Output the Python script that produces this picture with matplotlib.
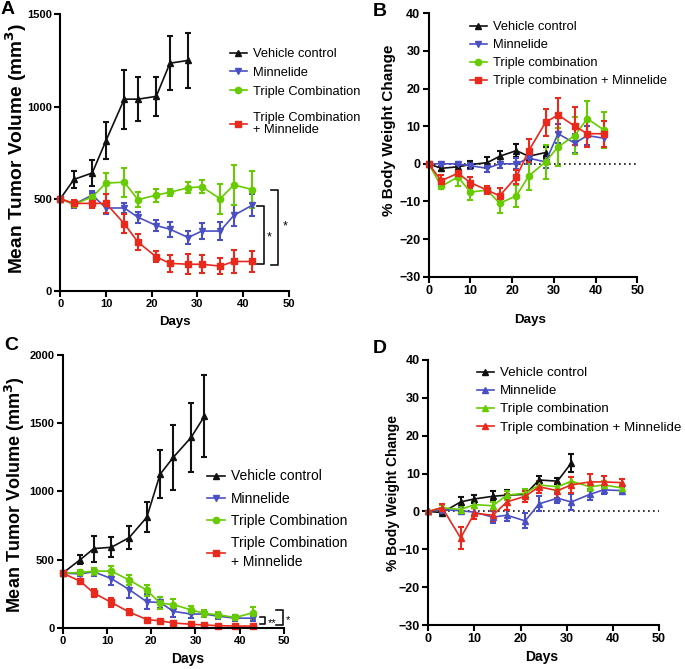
import matplotlib
matplotlib.use("Agg")
import matplotlib.pyplot as plt
from matplotlib.lines import Line2D
from matplotlib.legend import Legend

plt.rcParams['font.family'] = ['Liberation Sans', 'DejaVu Sans']
plt.rcParams['mathtext.default'] = 'bf'

BLACK = "#111111"
BLUE = "#4a50c4"
GREEN = "#66cc00"
RED = "#e8291c"

# ---- panel A: tumor volume ----
a_days_veh = [0, 3, 7, 10, 14, 17, 21, 24, 28]
a_veh = [500, 605, 640, 815, 1040, 1040, 1055, 1235, 1250]
a_veh_err = [0, 47, 70, 100, 160, 120, 105, 147, 150]
a_days = [0, 3, 7, 10, 14, 17, 21, 24, 28, 31, 35, 38, 42]
a_min = [500, 470, 520, 450, 450, 400, 355, 335, 290, 325, 325, 410, 465]
a_min_err = [0, 20, 20, 35, 25, 30, 30, 40, 35, 45, 50, 55, 60]
a_tri = [500, 470, 510, 585, 590, 495, 520, 535, 560, 565, 500, 575, 550]
a_tri_err = [0, 15, 15, 57, 78, 40, 35, 20, 30, 35, 80, 110, 100]
a_trm = [500, 475, 475, 475, 365, 265, 185, 150, 145, 145, 135, 160, 160]
a_trm_err = [0, 20, 25, 50, 50, 45, 30, 45, 55, 50, 45, 60, 55]

# ---- panel B: body weight ----
b_days_veh = [0, 3, 7, 10, 14, 17, 21, 24, 28]
b_veh = [0, -1.2, -0.8, -0.2, 0.3, 2.0, 3.5, 2.0, 3.0]
b_veh_err = [0, 0.6, 0.8, 1.0, 1.5, 1.5, 1.8, 1.2, 1.5]
b_days = [0, 3, 7, 10, 14, 17, 21, 24, 28, 31, 35, 38, 42]
b_min = [0, 0, 0, -0.5, -1.2, 0, 0, 1.5, 0.5, 8.0, 5.5, 7.5, 6.8]
b_min_err = [0, 0.6, 0.6, 0.8, 1.0, 1.2, 1.5, 1.5, 1.5, 2.5, 2.5, 2.5, 2.5]
b_tri = [0, -6.0, -3.5, -7.5, -7.0, -10.5, -8.5, -3.2, 0.5, 4.5, 7.5, 12.0, 9.0]
b_tri_err = [0, 0.8, 2.5, 2.0, 1.0, 2.5, 3.0, 3.8, 4.5, 5.0, 5.0, 4.7, 4.7]
b_trm = [0, -4.5, -2.5, -5.0, -7.0, -8.5, -3.5, 3.5, 11.0, 13.0, 10.0, 8.0, 8.0]
b_trm_err = [0, 1.5, 1.5, 1.5, 1.0, 2.0, 1.8, 3.0, 3.7, 4.5, 5.0, 3.5, 3.5]

# ---- panel C: tumor volume ----
c_days_veh = [0, 4, 7, 11, 15, 19, 22, 25, 29, 32]
c_veh = [400, 500, 580, 590, 660, 810, 1125, 1250, 1395, 1550]
c_veh_err = [0, 30, 95, 75, 85, 110, 175, 240, 255, 300]
c_days = [0, 4, 7, 11, 15, 19, 22, 25, 29, 32, 35, 39, 43]
c_min = [400, 395, 410, 360, 280, 190, 185, 120, 100, 100, 85, 70, 70]
c_min_err = [0, 15, 30, 45, 60, 55, 40, 40, 30, 25, 20, 20, 20]
c_tri = [400, 405, 415, 415, 350, 275, 180, 170, 130, 105, 95, 75, 110]
c_tri_err = [0, 15, 25, 35, 40, 40, 45, 40, 30, 25, 20, 15, 45]
c_trm = [400, 340, 255, 185, 115, 60, 50, 35, 25, 20, 15, 12, 12]
c_trm_err = [0, 15, 30, 30, 20, 10, 10, 10, 10, 8, 8, 8, 8]

# ---- panel D: body weight ----
d_days_veh = [0, 3, 7, 10, 14, 17, 21, 24, 28, 31]
d_veh = [0, -0.3, 2.5, 3.3, 4.0, 4.3, 4.5, 8.3, 8.0, 12.8]
d_veh_err = [0, 0.5, 1.2, 1.0, 1.3, 1.3, 1.0, 1.0, 0.8, 2.5]
d_days = [0, 3, 7, 10, 14, 17, 21, 24, 28, 31, 35, 38, 42]
d_min = [0, 0.5, 0.2, -0.2, -1.5, -1.0, -2.5, 2.0, 3.5, 2.5, 4.5, 5.7, 5.5]
d_min_err = [0, 0.5, 1.0, 1.0, 1.5, 1.5, 2.0, 2.0, 1.3, 2.2, 1.5, 1.0, 1.0]
d_tri = [0, 1.0, 0.5, 1.8, 1.5, 4.3, 4.8, 7.0, 6.5, 8.0, 6.5, 7.0, 6.2]
d_tri_err = [0, 0.8, 1.0, 1.0, 1.0, 1.2, 1.2, 1.0, 1.0, 1.2, 1.0, 1.0, 1.0]
d_trm = [0, 1.0, -7.0, -0.5, -1.0, 2.5, 4.0, 6.5, 5.5, 7.0, 7.8, 7.8, 7.6]
d_trm_err = [0, 1.0, 2.8, 1.5, 1.5, 2.0, 1.5, 1.5, 2.0, 2.0, 2.0, 1.5, 1.0]

labels_tv = ["Vehicle control", "Minnelide", "Triple Combination",
             "Triple Combination\n+ Minnelide"]
labels_bw = ["Vehicle control", "Minnelide", "Triple combination",
             "Triple combination + Minnelide"]

# significance brackets: (x, y_top, y_bottom, arm, text, text_x, text_y)
a_brackets = [(44.5, 463, 145, 1.5, "*", 45.8, 291),
              (47.7, 548, 139, 1.5, "*", 49.3, 349)]
c_brackets = [(45.7, 78, 27, 1.2, "**", 47.4, 35),
              (49.8, 130, 20, 1.7, "*", 50.9, 55)]

W, H = 685, 669
fig = plt.figure(figsize=(W / 100, H / 100), dpi=100)
COLORS = [BLACK, BLUE, GREEN, RED]


def px_axes(l, r, t, b):
    return fig.add_axes([l / W, 1 - b / H, (r - l) / W, (b - t) / H])


def style(ax, ylim, yticks, fs):
    ax.set_xlim(0, 50)
    ax.set_ylim(*ylim)
    ax.set_xticks(range(0, 51, 10))
    ax.set_yticks(yticks)
    for s in ["top", "right"]:
        ax.spines[s].set_visible(False)
    for s in ["left", "bottom"]:
        ax.spines[s].set_linewidth(1.5)
    ax.tick_params(direction="out", length=4, width=1.5, labelsize=fs, pad=2)
    for lab in ax.get_xticklabels() + ax.get_yticklabels():
        lab.set_fontweight("bold")


def series(ax, x, y, e, color, marker, ms=4.5):
    ax.errorbar(x, y, yerr=e, color=color, marker=marker, ms=ms, lw=1.2,
                elinewidth=1.5, capsize=2.5, capthick=1.5, clip_on=False)


def legend(ax, colors, markers, labels, x_px, y_px, fs, ls, linesp=1.0):
    handles = [Line2D([], [], color=c, marker=m, ms=4.5, lw=1.2)
               for c, m in zip(colors, markers)]
    leg = Legend(ax, handles, labels, loc="upper left", frameon=False,
                 bbox_to_anchor=(x_px / W, 1 - y_px / H),
                 bbox_transform=fig.transFigure, borderpad=0,
                 borderaxespad=0, handlelength=1.3, handletextpad=0.45,
                 labelspacing=ls, prop={"size": fs})
    for t in leg.get_texts():
        t.set_linespacing(linesp)
    ax.add_artist(leg)
    return leg


def brackets(ax, items, fs):
    for x, yt, yb, arm, txt, tx, ty in items:
        ax.plot([x - arm, x, x, x - arm], [yt, yt, yb, yb], color=BLACK,
                lw=1.2, clip_on=False)
        ax.text(tx, ty, txt, ha="center", va="center", fontsize=fs,
                clip_on=False)


markers_tv = ["^", "v", "o", "s"]

# A
axA = px_axes(60.3, 288.7, 14.3, 291)
series(axA, a_days_veh, a_veh, a_veh_err, BLACK, "^")
series(axA, a_days, a_min, a_min_err, BLUE, "v")
series(axA, a_days, a_tri, a_tri_err, GREEN, "o")
series(axA, a_days, a_trm, a_trm_err, RED, "s")
style(axA, (0, 1500), [0, 500, 1000, 1500], 8)
axA.set_ylabel("Mean Tumor Volume (mm$^3$)", fontsize=13.8, fontweight="bold")
axA.yaxis.set_label_coords(-0.135, 0.515)
axA.set_xlabel("Days", fontsize=9.5, fontweight="bold")
axA.xaxis.set_label_coords(0.5, -0.092)
legend(axA, COLORS[:3], markers_tv[:3], labels_tv[:3], 230, 48, 9.3, 0.52)
legend(axA, COLORS[3:], markers_tv[3:], labels_tv[3:], 230, 112, 9.3, 0.52,
       linesp=1.05)
brackets(axA, a_brackets, 9)

# B
axB = px_axes(428.7, 637.3, 13.3, 276.7)
axB.plot([0, 50], [0, 0], color=BLACK, ls=(0, (1, 2)), lw=1.2)
series(axB, b_days_veh, b_veh, b_veh_err, BLACK, "^")
series(axB, b_days, b_min, b_min_err, BLUE, "v")
series(axB, b_days, b_tri, b_tri_err, GREEN, "o")
series(axB, b_days, b_trm, b_trm_err, RED, "s")
style(axB, (-30, 40), range(-30, 41, 10), 9)
axB.set_ylabel("% Body Weight Change", fontsize=11, fontweight="bold")
axB.yaxis.set_label_coords(-0.157, 0.557)
axB.set_xlabel("Days", fontsize=9.6, fontweight="bold")
axB.xaxis.set_label_coords(0.486, -0.142)
legend(axB, COLORS, markers_tv, labels_bw, 470, 21, 9.3, 0.47)

# C
axC = px_axes(62.7, 284, 355, 627.7)
series(axC, c_days_veh, c_veh, c_veh_err, BLACK, "^")
series(axC, c_days, c_min, c_min_err, BLUE, "v")
series(axC, c_days, c_tri, c_tri_err, GREEN, "o")
series(axC, c_days, c_trm, c_trm_err, RED, "s")
style(axC, (0, 2000), [0, 500, 1000, 1500, 2000], 8)
axC.set_ylabel("Mean Tumor Volume (mm$^3$)", fontsize=13, fontweight="bold")
axC.yaxis.set_label_coords(-0.161, 0.487)
axC.set_xlabel("Days", fontsize=10, fontweight="bold")
axC.xaxis.set_label_coords(0.564, -0.09)
legend(axC, COLORS[:3], markers_tv[:3], labels_tv[:3], 206.7, 469.5, 10, 0.6)
legend(axC, COLORS[3:], markers_tv[3:], labels_tv[3:], 206.7, 536, 10, 0.6,
       linesp=1.45)
brackets(axC, c_brackets, 8)

# D
axD = px_axes(428.3, 659, 360, 625)
axD.plot([0, 50], [0, 0], color=BLACK, ls=(0, (1, 2)), lw=1.2)
series(axD, d_days_veh, d_veh, d_veh_err, BLACK, "^")
series(axD, d_days, d_min, d_min_err, BLUE, "^")
series(axD, d_days, d_tri, d_tri_err, GREEN, "^")
series(axD, d_days, d_trm, d_trm_err, RED, "^")
style(axD, (-30, 40), range(-30, 41, 10), 9)
axD.set_ylabel("% Body Weight Change", fontsize=10, fontweight="bold")
axD.yaxis.set_label_coords(-0.123, 0.498)
axD.set_xlabel("Days", fontsize=10, fontweight="bold")
axD.xaxis.set_label_coords(0.49, -0.096)
legend(axD, COLORS, ["^"] * 4, labels_bw, 476.7, 367, 9.6, 0.43)

for letter, x, y in [("A", 1, 1), ("B", 373, 3), ("C", 4, 337), ("D", 373, 340)]:
    fig.text(x / W, 1 - y / H, letter, fontsize=14, fontweight="bold",
             ha="left", va="top")

fig.savefig("out.png", dpi=100)
